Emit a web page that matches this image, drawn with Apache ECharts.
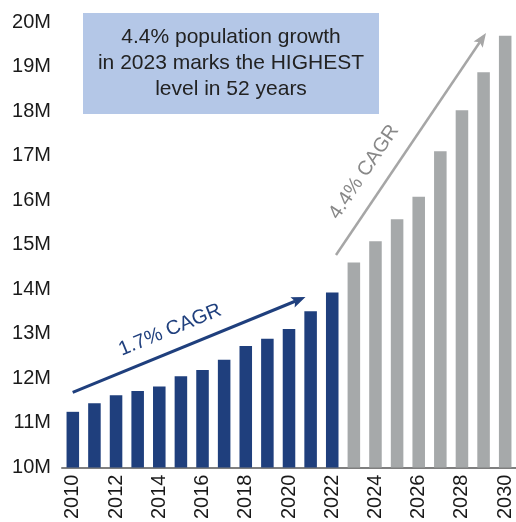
<!DOCTYPE html>
<html>
<head>
<meta charset="utf-8">
<script src="https://cdn.jsdelivr.net/npm/echarts@6/dist/echarts.min.js"></script>
<style>html,body{margin:0;padding:0;background:#fff;}#c{width:516px;height:522px;}</style>
</head>
<body>
<div id="c"></div>
<script>
var years = ['2010','2011','2012','2013','2014','2015','2016','2017','2018','2019','2020','2021','2022','2023','2024','2025','2026','2027','2028','2029','2030'];
var actualValues = [11.25, 11.44, 11.62, 11.72, 11.82, 12.05, 12.19, 12.42, 12.73, 12.89, 13.11, 13.51, 13.93];
var projectedValues = [14.60, 15.08, 15.57, 16.08, 17.10, 18.02, 18.87, 19.69];
var yTickMin = 10, yTickMax = 20, yTickStep = 1;

var actualSeries = years.map(function(y, i){ return i < actualValues.length ? actualValues[i] : null; });
var projSeries = years.map(function(y, i){ return i >= actualValues.length ? projectedValues[i - actualValues.length] : null; });

var FONT = '"Liberation Sans", Arial, sans-serif';
var BLUE = '#1f3f7d';
var GRAY = '#a6a9aa';
var AGRAY = '#a6a6a6';

function arrow(x1, y1, x2, y2, color, w, headLen, headW) {
  var dx = x2 - x1, dy = y2 - y1, L = Math.sqrt(dx*dx + dy*dy);
  var ux = dx / L, uy = dy / L, px = -uy, py = ux;
  var bx = x2 - ux * headLen, by = y2 - uy * headLen;
  var nx = x2 - ux * headLen * 0.8, ny = y2 - uy * headLen * 0.8;
  return [
    { type: 'line', shape: { x1: x1, y1: y1, x2: nx, y2: ny }, style: { stroke: color, lineWidth: w }, z: 10 },
    { type: 'polygon', shape: { points: [[x2, y2], [bx + px * headW / 2, by + py * headW / 2], [nx, ny], [bx - px * headW / 2, by - py * headW / 2]] }, style: { fill: color }, z: 10 }
  ];
}

var chart = echarts.init(document.getElementById('c'));
var graphics = [
  { type: 'rect', shape: { x: 83, y: 13, width: 296, height: 101 }, style: { fill: '#b4c7e7' }, z: 10 },
  { type: 'text', x: 231, y: 63, z: 11, style: { text: '4.4% population growth\nin 2023 marks the HIGHEST\nlevel in 52 years', font: '21px ' + FONT, fill: '#222222', align: 'center', verticalAlign: 'middle', lineHeight: 26 } },
  { type: 'text', x: 170, y: 330, rotation: 22.2 * Math.PI / 180, z: 11, style: { text: '1.7% CAGR', font: '20px ' + FONT, fill: BLUE, align: 'center', verticalAlign: 'middle' } },
  { type: 'text', x: 364, y: 172, rotation: 55.9 * Math.PI / 180, z: 11, style: { text: '4.4% CAGR', font: '20px ' + FONT, fill: '#888888', align: 'center', verticalAlign: 'middle' } }
].concat(arrow(72.7, 392.3, 305.5, 297, BLUE, 3, 14, 11)).concat(arrow(336, 255, 486, 33, AGRAY, 2.5, 14, 11));

chart.setOption({
  animation: false,
  grid: { left: 62, right: -2, top: 22, bottom: 53 },
  xAxis: {
    type: 'category', data: years, boundaryGap: true,
    axisLine: { lineStyle: { color: '#7f7f7f', width: 2 } },
    axisTick: { show: false },
    axisLabel: { rotate: 90, interval: 1, margin: 7, fontSize: 20, fontFamily: FONT, color: '#1a1a1a' }
  },
  yAxis: {
    type: 'value', min: yTickMin, max: yTickMax, interval: yTickStep,
    splitLine: { show: false }, axisLine: { show: false }, axisTick: { show: false },
    axisLabel: { formatter: '{value}M', fontSize: 20, fontFamily: FONT, color: '#1a1a1a', margin: 11 }
  },
  series: [
    { type: 'bar', data: actualSeries, barWidth: '58%', barGap: '-100%', itemStyle: { color: BLUE } },
    { type: 'bar', data: projSeries, barWidth: '58%', barGap: '-100%', itemStyle: { color: GRAY } }
  ],
  graphic: graphics
});
</script>
</body>
</html>
